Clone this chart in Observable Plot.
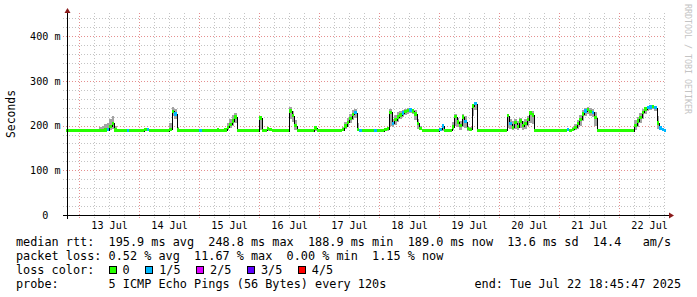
<!DOCTYPE html>
<html>
<head>
<meta charset="utf-8">
<script src="https://cdn.jsdelivr.net/npm/d3@7"></script>
<script src="https://cdn.jsdelivr.net/npm/@observablehq/plot@0.6"></script>
<style>
  body { margin: 0; background: #fff; }
  #wrap { position: relative; width: 697px; height: 297px; overflow: hidden;
          font-family: "DejaVu Sans Mono", monospace; color: #000; background: #fff; }
  #wrap > svg { position: absolute; left: 0; top: 0; }
  .lg { position: absolute; left: 16px; font-size: 11.83px; line-height: 14px; white-space: pre; }
  .lg.end { left: auto; right: 16px; }
  .row { display: flex; align-items: baseline; }
  .box { display: inline-block; width: 8px; height: 8px; box-sizing: border-box;
         border: 1px solid #000; margin-right: 6px; align-self: center; position: relative; top: 0.5px; }
  .cls { margin-right: 15.5px; }
</style>
</head>
<body>
<div id="wrap"></div>
<script>
// Hourly samples starting 12 Jul 18:00; values in milliseconds.
const medianMs = [
  // 12 Jul 18:00-23:00
  188.9,189,189,189,189,189,
  // 13 Jul
  189,189,189,189,189,189,189,189, 189,189,190,191,198,205,190,189, 189,189,189,189,189,189,189,189,
  // 14 Jul
  189,189,191,191,189,189,189,189, 189,189,189,189,192,232,226,190, 189,189,189,189,189,189,189,189,
  // 15 Jul
  189,189,189,189,189,189,189,190, 189,189,190,196,203,210,219,189, 189,189,189,189,189,189,189,189,
  // 16 Jul
  217,189,189,193,191,189,189,189, 189,189,189,189,233,222,200,189, 189,189,189,189,189,189,195,189,
  // 17 Jul
  189,189,189,189,189,189,189,189, 189,191,199,207,216,225,229,192, 189,189,189,189,189,189,189,189,
  // 18 Jul
  189,189,191,193,230,205,213,219, 224,228,231,234,235,233,226,205, 194,189,189,189,189,189,189,189,
  // 19 Jul
  191,199,189,189,189,197,221,208, 200,219,209,194,191,244,248.8,189, 189,189,189,189,189,189,189,189,
  // 20 Jul
  189,189,189,222,205,196,207,198, 210,200,204,213,228,224,189,189, 189,189,189,189,189,189,189,189,
  // 21 Jul
  189,189,189,191,189,192,196,204, 214,226,233,236,232,230,218,189, 189,189,189,189,189,189,189,189,
  // 22 Jul 00:00-18:00
  189,189,189,189,189,189,200,210, 218,230,237,240,242,243,241,206, 195,191,189
];

// Fastest ping of each sample (lower edge of the smoke)
const smokeLowMs = [
  188,188,188,188,188,188,
  188,188,188,188,188,188,188,188, 188,188,188,189,191,193,189,188, 188,188,188,188,188,188,188,188,
  188,188,189,189,188,188,188,188, 188,188,188,188,189,222,214,188, 188,188,188,188,188,188,188,188,
  188,188,188,188,188,188,188,188, 188,188,188,190,195,200,205,188, 188,188,188,188,188,188,188,188,
  190,188,188,189,189,188,188,188, 188,188,188,188,215,208,191,188, 188,188,188,188,188,188,189,188,
  188,188,188,188,188,188,188,188, 188,189,192,198,205,212,216,189, 188,188,188,188,188,188,188,188,
  188,188,189,189,200,196,202,208, 214,219,223,226,228,225,212,193, 190,188,188,188,188,188,188,188,
  189,189,188,188,188,190,200,196, 191,198,195,189,189,222,236,188, 188,188,188,188,188,188,188,188,
  188,188,188,195,192,190,193,190, 195,191,193,200,205,204,188,188, 188,188,188,188,188,188,188,188,
  188,188,188,189,188,189,190,193, 200,210,222,226,222,220,200,188, 188,188,188,188,188,188,188,188,
  188,188,188,188,188,188,191,198, 205,215,226,232,236,237,232,192, 190,189,188
];

// Slowest ping of each sample (upper edge of the smoke)
const smokeHighMs = [
  191,191,191,191,191,191,
  191,191,191,191,191,191,191,191, 197,200,203,206,214,222,200,191, 191,191,191,191,191,191,191,191,
  191,191,194,195,191,191,191,191, 191,191,191,191,205,241,238,198, 191,191,191,191,191,191,191,191,
  191,191,191,191,191,191,191,192, 191,191,195,206,214,224,228,191, 191,191,191,191,191,191,191,191,
  219,191,191,196,193,191,191,191, 191,191,191,191,241,232,212,191, 191,191,191,191,191,191,197,191,
  191,191,191,191,191,191,191,191, 191,197,208,216,226,234,238,205, 191,191,191,191,191,191,191,191,
  191,191,195,197,238,214,224,230, 233,236,237,239,240,238,234,215, 200,191,191,191,191,191,191,191,
  192,202,191,191,191,208,226,218, 210,226,221,200,196,249,252,191, 191,191,191,191,191,191,191,191,
  191,191,191,226,215,210,214,210, 218,211,214,222,233,232,191,191, 191,191,191,191,191,191,191,191,
  191,191,191,192,191,197,204,212, 224,234,240,241,239,237,230,191, 191,191,191,191,191,191,191,191,
  191,191,191,191,191,191,212,220, 228,237,242,244,245,246,245,222, 200,194,191
];

// Lost pings out of 5 for each sample
const lossCount = [
  0,0,0,0,0,0,
  0,0,0,0,0,0,0,0, 0,0,0,1,0,0,0,0, 0,0,0,1,0,0,0,0,
  0,0,0,1,0,0,0,0, 0,0,0,0,0,0,1,0, 0,0,0,0,0,0,0,0,
  1,0,0,0,0,0,0,0, 0,0,0,0,0,0,0,0, 0,0,0,0,0,0,0,0,
  0,0,0,0,0,0,0,0, 0,0,0,0,0,0,0,0, 0,0,0,0,0,0,0,0,
  0,0,0,0,0,0,0,0, 0,0,0,0,0,0,1,0, 1,0,0,0,0,0,1,0,
  0,0,0,0,0,1,0,0, 0,1,0,0,1,0,0,0, 0,0,0,0,0,0,0,0,
  1,1,0,0,0,0,0,0, 0,0,1,0,0,0,1,0, 0,0,0,0,0,0,0,0,
  0,0,0,0,1,0,0,0, 0,0,0,0,0,0,0,0, 0,0,0,0,0,0,0,0,
  0,0,0,1,0,0,0,0, 0,0,1,0,0,1,0,0, 0,0,0,0,0,0,0,0,
  0,0,0,0,0,0,0,0, 0,0,0,1,1,0,1,0, 1,1,1
];

const lossClasses = ["0", "1/5", "2/5", "3/5", "4/5"];
const lossColors  = ["#26ff00", "#00b8ff", "#dd00ff", "#5e00ff", "#ff0000"];

const yTicksMs = [0, 100, 200, 300, 400];
const yMaxMs = 452;

const rttLegend  = ["195.9 ms avg", "248.8 ms max", "188.9 ms min", "189.0 ms now", "13.6 ms sd", "14.4   am/s"];
const lossLegend = ["0.52 % avg", "11.67 % max", "0.00 % min", "1.15 % now"];
const probeText  = "5 ICMP Echo Pings (56 Bytes) every 120s";
const endText    = "end: Tue Jul 22 18:45:47 2025";

const firstSample = new Date(Date.UTC(2025, 6, 12, 18, 0, 0));
const start = new Date(Date.UTC(2025, 6, 12, 18, 45, 47));
const end   = new Date(Date.UTC(2025, 6, 22, 18, 45, 47));

const samples = medianMs.map((m, i) => ({
  t: d3.utcHour.offset(firstSample, i),
  t2: d3.utcHour.offset(firstSample, i + 1),
  med: m, lo: smokeLowMs[i], hi: smokeHighMs[i], loss: lossCount[i]
}));
// step line through the medians, closed at the end of the last sample
const medianPath = samples.map(d => ({t: d.t, v: d.med}))
  .concat([{t: samples[samples.length - 1].t2, v: samples[samples.length - 1].med}]);

// grid
const sixHours = d3.utcHour.every(6).range(start, end);
const midnights = sixHours.filter(d => d.getUTCHours() === 0);
const quarterDays = sixHours.filter(d => d.getUTCHours() !== 0);
const noons = sixHours.filter(d => d.getUTCHours() === 12);
const minorY = d3.range(20, yMaxMs, 20).filter(v => v % 100 !== 0);
const majorY = yTicksMs.filter(v => v > 0);

const bandHalf = 3.7; // half thickness of the median band, ms

const gridMinor = {stroke: "#c4c4c4", strokeDasharray: "1,2", shapeRendering: "crispEdges"};
const gridMajor = {stroke: "#e58f8f", strokeDasharray: "1,2", shapeRendering: "crispEdges"};

// zero keeps the unit column blank so its digit lines up with the others
const yTickFormat = v => v === 0 ? "0\u00a0\u00a0" : `${v} m`;

const chart = Plot.plot({
  width: 697,
  height: 232,
  marginLeft: 66,
  marginRight: 31,
  marginTop: 13,
  marginBottom: 17,
  style: {fontFamily: "'DejaVu Sans Mono', monospace", fontSize: "10.1px", color: "#000", background: "transparent", overflow: "visible"},
  x: {type: "utc", domain: [start, end], ticks: noons, tickFormat: d3.utcFormat("%d %b"),
      tickSize: 0, tickPadding: 6.5, label: null},
  y: {domain: [0, yMaxMs], ticks: yTicksMs, tickFormat: yTickFormat,
      tickSize: 0, tickPadding: 6, label: null},
  marks: [
    Plot.ruleY(minorY, {...gridMinor, insetLeft: -3}),
    Plot.ruleX(quarterDays, {...gridMinor, insetBottom: -3}),
    Plot.ruleY(majorY, {...gridMajor, insetLeft: -3}),
    Plot.ruleX(midnights, {...gridMajor, insetBottom: -3}),
    Plot.rect(samples, {x1: "t", x2: "t2", y1: "lo", y2: "hi", fill: "#a4a4a4", clip: true, shapeRendering: "crispEdges"}),
    Plot.line(medianPath, {x: "t", y: "v", curve: "step-after", stroke: "#000", strokeWidth: 1, clip: true, shapeRendering: "crispEdges"}),
    Plot.rect(samples, {x1: "t", x2: "t2", y1: d => d.med - bandHalf, y2: d => d.med + bandHalf,
      fill: d => lossColors[d.loss], clip: true, shapeRendering: "crispEdges"})
  ]
});

const wrap = document.getElementById("wrap");
wrap.appendChild(chart);

// axes, arrows and side texts
const svg = d3.select(chart);
const [xl, xr] = chart.scale("x").range;
const [yb, yt] = chart.scale("y").range;
const deco = svg.append("g");
deco.append("line").attr("x1", xl - 3).attr("x2", xr + 3).attr("y1", yb + 0.5).attr("y2", yb + 0.5)
  .attr("stroke", "#000").attr("shape-rendering", "crispEdges");
deco.append("line").attr("x1", xl + 1.5).attr("x2", xl + 1.5).attr("y1", yb + 3.5).attr("y2", yt - 2)
  .attr("stroke", "#000").attr("shape-rendering", "crispEdges");
deco.append("path").attr("d", `M${xl - 1.5},${yt} L${xl + 4.5},${yt} L${xl + 1.5},${yt - 5} Z`).attr("fill", "#8a1a1a");
deco.append("path").attr("d", `M${xr + 3},${yb - 2.5} L${xr + 3},${yb + 3.5} L${xr + 8},${yb + 0.5} Z`).attr("fill", "#8a1a1a");
deco.append("text").text("Seconds")
  .attr("transform", `translate(15,${(yb + yt) / 2}) rotate(-90)`)
  .attr("text-anchor", "middle").attr("fill", "#000")
  .style("font-size", "11.4px");
deco.append("text").text("RRDTOOL / TOBI OETIKER")
  .attr("transform", "translate(685,4) rotate(90)")
  .attr("text-anchor", "start")
  .attr("fill", "#c4c4c4").style("font-size", "8.3px");

// legend below the graph
function line(top, text, cls) {
  const d = document.createElement("div");
  d.className = "lg" + (cls ? " " + cls : "");
  d.style.top = top + "px";
  if (text != null) d.textContent = text;
  wrap.appendChild(d);
  return d;
}
line(235, "median rtt:  " + rttLegend.join("  "));
line(248.5, "packet loss: " + lossLegend.join("  "));
const lossRow = line(262.5, null, "row");
lossRow.appendChild(document.createTextNode("loss color:  "));
lossClasses.forEach((c, i) => {
  const b = document.createElement("span");
  b.className = "box";
  b.style.background = lossColors[i];
  lossRow.appendChild(b);
  const s = document.createElement("span");
  s.className = "cls";
  s.textContent = c;
  lossRow.appendChild(s);
});
line(276.5, "probe:       " + probeText);
line(276.5, endText, "end");
</script>
</body>
</html>
